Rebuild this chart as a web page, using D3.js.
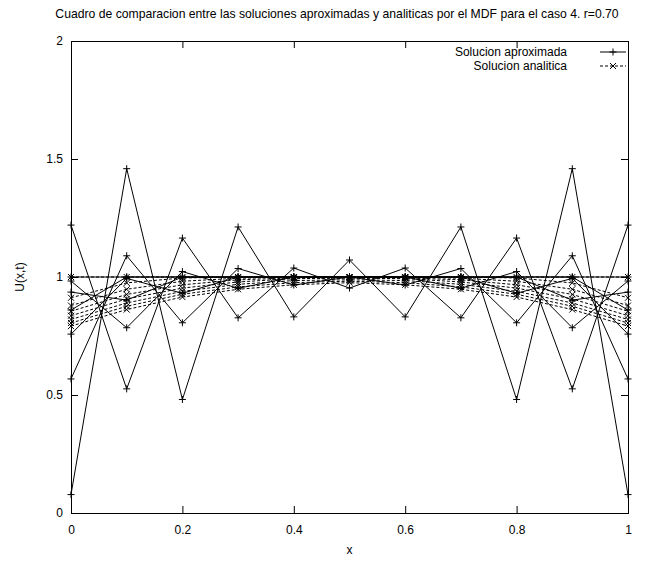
<!DOCTYPE html>
<html>
<head>
<meta charset="utf-8">
<script src="https://cdn.jsdelivr.net/npm/d3@7"></script>
<style>
  body { margin: 0; background: #fff; }
  svg text { font-family: "Liberation Sans", Arial, sans-serif; fill: #000; }
</style>
</head>
<body>
<div id="chart"></div>
<script>
// nodos de la malla
const xs = [0, 0.1, 0.2, 0.3, 0.4, 0.5, 0.6, 0.7, 0.8, 0.9, 1];

// solucion aproximada (MDF explicito), un arreglo por paso de tiempo
const aprox0 = [1, 1, 1, 1, 1, 1, 1, 1, 1, 1, 1];
const aprox1 = [0.860, 1, 1, 1, 1, 1, 1, 1, 1, 1, 0.860];
const aprox2 = [0.936, 0.902, 1, 1, 1, 1, 1, 1, 1, 0.902, 0.936];
const aprox3 = [0.758, 0.994, 0.931, 1, 1, 1, 1, 1, 0.931, 0.994, 0.758];
const aprox4 = [0.983, 0.785, 1.023, 0.952, 1, 1, 1, 0.952, 1.023, 0.785, 0.983];
const aprox5 = [0.568, 1.090, 0.806, 1.036, 0.966, 1, 0.966, 1.036, 0.806, 1.090, 0.568];
const aprox6 = [1.220, 0.526, 1.165, 0.827, 1.038, 0.953, 1.038, 0.827, 1.165, 0.526, 1.220];
const aprox7 = [0.078, 1.459, 0.481, 1.212, 0.831, 1.072, 0.831, 1.212, 0.481, 1.459, 0.078];

// solucion analitica en los mismos tiempos
const anal0 = [1, 1, 1, 1, 1, 1, 1, 1, 1, 1, 1];
const anal1 = [0.912, 0.975, 0.996, 1.000, 1.000, 1.000, 1.000, 1.000, 0.996, 0.975, 0.912];
const anal2 = [0.879, 0.948, 0.982, 0.995, 0.999, 1.000, 0.999, 0.995, 0.982, 0.948, 0.879];
const anal3 = [0.855, 0.926, 0.967, 0.988, 0.996, 0.998, 0.996, 0.988, 0.967, 0.926, 0.855];
const anal4 = [0.836, 0.907, 0.953, 0.979, 0.993, 0.995, 0.993, 0.979, 0.953, 0.907, 0.836];
const anal5 = [0.820, 0.890, 0.939, 0.969, 0.985, 0.988, 0.985, 0.969, 0.939, 0.890, 0.820];
const anal6 = [0.805, 0.876, 0.927, 0.958, 0.976, 0.982, 0.976, 0.958, 0.927, 0.876, 0.805];
const anal7 = [0.792, 0.862, 0.915, 0.948, 0.967, 0.976, 0.967, 0.948, 0.915, 0.862, 0.792];

const aproxSeries = [aprox0, aprox1, aprox2, aprox3, aprox4, aprox5, aprox6, aprox7];
const analSeries = [anal0, anal1, anal2, anal3, anal4, anal5, anal6, anal7];

const xTicks = [0, 0.2, 0.4, 0.6, 0.8, 1];
const yTicks = [0, 0.5, 1, 1.5, 2];

const titulo = "Cuadro de comparacion entre las soluciones aproximadas y analiticas por el MDF para el caso 4. r=0.70";
const leyenda = ["Solucion aproximada", "Solucion analitica"];

const W = 656, H = 563;
const box = {left: 71, right: 628, top: 41, bottom: 513};

const svg = d3.select("#chart").append("svg")
    .attr("width", W)
    .attr("height", H);

const x = d3.scaleLinear().domain([0, 1]).range([box.left, box.right]);
const y = d3.scaleLinear().domain([0, 2]).range([box.bottom, box.top]);

// ejes con marcas hacia adentro (estilo gnuplot)
const fmt = d => d3.format("")(d);

svg.append("g")
    .attr("transform", `translate(0,${box.bottom})`)
    .call(d3.axisBottom(x).tickValues(xTicks).tickFormat(fmt).tickSizeInner(-7).tickSizeOuter(0).tickPadding(12))
    .call(g => g.select(".domain").remove());

svg.append("g")
    .attr("transform", `translate(0,${box.top})`)
    .call(d3.axisTop(x).tickValues(xTicks).tickFormat("").tickSizeInner(-7).tickSizeOuter(0))
    .call(g => g.select(".domain").remove());

svg.append("g")
    .attr("transform", `translate(${box.left},0)`)
    .call(d3.axisLeft(y).tickValues(yTicks).tickFormat(fmt).tickSizeInner(-7).tickSizeOuter(0).tickPadding(8))
    .call(g => g.select(".domain").remove());

svg.append("g")
    .attr("transform", `translate(${box.right},0)`)
    .call(d3.axisRight(y).tickValues(yTicks).tickFormat("").tickSizeInner(-7).tickSizeOuter(0))
    .call(g => g.select(".domain").remove());

svg.selectAll(".tick text")
    .style("font-size", "12px")
    .style("font-family", "Liberation Sans, Arial, sans-serif");
svg.selectAll(".tick line").attr("stroke", "#000");

// marco
svg.append("rect")
    .attr("x", box.left + 0.5)
    .attr("y", box.top + 0.5)
    .attr("width", box.right - box.left)
    .attr("height", box.bottom - box.top)
    .attr("fill", "none")
    .attr("stroke", "#000")
    .attr("stroke-width", 1);

const line = d3.line()
    .x((d, i) => x(xs[i]))
    .y(d => y(d));

const plot = svg.append("g");

// curvas analiticas (discontinuas, marcador x)
analSeries.forEach(s => {
    plot.append("path")
        .datum(s)
        .attr("d", line)
        .attr("fill", "none")
        .attr("stroke", "#000")
        .attr("stroke-width", 1)
        .attr("stroke-dasharray", "3,2");
    plot.append("g").selectAll("path")
        .data(s)
        .join("path")
        .attr("d", (d, i) => {
            const cx = x(xs[i]), cy = y(d), r = 3;
            return `M${cx - r},${cy - r}L${cx + r},${cy + r}M${cx - r},${cy + r}L${cx + r},${cy - r}`;
        })
        .attr("stroke", "#000")
        .attr("stroke-width", 1);
});

// curvas aproximadas (continuas, marcador +)
aproxSeries.forEach(s => {
    plot.append("path")
        .datum(s)
        .attr("d", line)
        .attr("fill", "none")
        .attr("stroke", "#000")
        .attr("stroke-width", 1);
    plot.append("g").selectAll("path")
        .data(s)
        .join("path")
        .attr("d", (d, i) => {
            const cx = x(xs[i]), cy = y(d), r = 3.5;
            return `M${cx - r},${cy}L${cx + r},${cy}M${cx},${cy - r}L${cx},${cy + r}`;
        })
        .attr("stroke", "#000")
        .attr("stroke-width", 1);
});

// titulo y etiquetas
svg.append("text")
    .attr("x", 337)
    .attr("y", 18)
    .attr("text-anchor", "middle")
    .style("font-size", "12.2px")
    .text(titulo);

svg.append("text")
    .attr("x", (box.left + box.right) / 2)
    .attr("y", 554)
    .attr("text-anchor", "middle")
    .style("font-size", "12px")
    .text("x");

svg.append("text")
    .attr("transform", `translate(24,${(box.top + box.bottom) / 2}) rotate(-90)`)
    .attr("text-anchor", "middle")
    .style("font-size", "12px")
    .text("U(x,t)");

// leyenda
const leg = svg.append("g");
const legY = [52, 66];

leyenda.forEach((t, k) => {
    leg.append("text")
        .attr("x", 567)
        .attr("y", legY[k] + 4)
        .attr("text-anchor", "end")
        .style("font-size", "12px")
        .text(t);
    leg.append("line")
        .attr("x1", 600).attr("x2", 626)
        .attr("y1", legY[k]).attr("y2", legY[k])
        .attr("stroke", "#000")
        .attr("stroke-width", 1)
        .attr("stroke-dasharray", k === 1 ? "3,2" : null);
    const cx = 613, cy = legY[k];
    leg.append("path")
        .attr("d", k === 0
            ? `M${cx - 3.5},${cy}L${cx + 3.5},${cy}M${cx},${cy - 3.5}L${cx},${cy + 3.5}`
            : `M${cx - 3},${cy - 3}L${cx + 3},${cy + 3}M${cx - 3},${cy + 3}L${cx + 3},${cy - 3}`)
        .attr("stroke", "#000")
        .attr("stroke-width", 1);
});
</script>
</body>
</html>
